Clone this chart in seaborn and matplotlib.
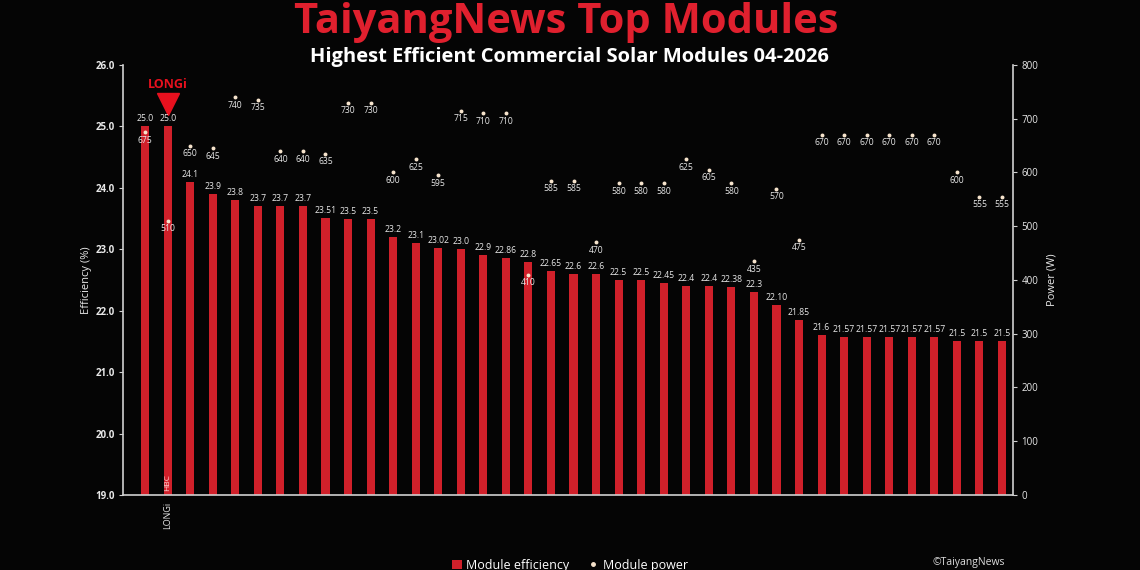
import matplotlib
matplotlib.use("Agg")
import matplotlib.pyplot as plt
import matplotlib.transforms as mtransforms
import seaborn as sns
import pandas as pd
from matplotlib.lines import Line2D
from matplotlib.patches import Patch

# ---------------- data ----------------
ranks = ["R01", "R02", "R03", "R04", "R05", "R06", "R07", "R08", "R09", "R10",
         "R11", "R12", "R13", "R14", "R15", "R16", "R17", "R18", "R19", "R20",
         "R21", "R22", "R23", "R24", "R25", "R26", "R27", "R28", "R29", "R30",
         "R31", "R32", "R33", "R34", "R35", "R36", "R37", "R38", "R39"]
efficiency = [25.0, 25.0, 24.1, 23.9, 23.8, 23.7, 23.7, 23.7, 23.51, 23.5,
              23.5, 23.2, 23.1, 23.02, 23.0, 22.9, 22.86, 22.8, 22.65, 22.6,
              22.6, 22.5, 22.5, 22.45, 22.4, 22.4, 22.38, 22.3, 22.10, 21.85,
              21.6, 21.57, 21.57, 21.57, 21.57, 21.57, 21.5, 21.5, 21.5]
eff_labels = ["25.0", "25.0", "24.1", "23.9", "23.8", "23.7", "23.7", "23.7", "23.51", "23.5",
              "23.5", "23.2", "23.1", "23.02", "23.0", "22.9", "22.86", "22.8", "22.65", "22.6",
              "22.6", "22.5", "22.5", "22.45", "22.4", "22.4", "22.38", "22.3", "22.10", "21.85",
              "21.6", "21.57", "21.57", "21.57", "21.57", "21.57", "21.5", "21.5", "21.5"]
power = [675, 510, 650, 645, 740, 735, 640, 640, 635, 730,
         730, 600, 625, 595, 715, 710, 710, 410, 585, 585,
         470, 580, 580, 580, 625, 605, 580, 435, 570, 475,
         670, 670, 670, 670, 670, 670, 600, 555, 555]
tick_labels = ["", "LONGi", "", "", "", "", "", "", "", "",
               "", "", "", "", "", "", "", "", "", "",
               "", "", "", "", "", "", "", "", "", "",
               "", "", "", "", "", "", "", "", ""]
eff_ticks = [19.0, 20.0, 21.0, 22.0, 23.0, 24.0, 25.0, 26.0]
power_ticks = [0, 100, 200, 300, 400, 500, 600, 700, 800]

# ---------------- style ----------------
BG = "#050505"
RED = "#d0202a"
TITLE_RED = "#e0202e"
CREAM = "#f6e3cc"
SPINE = "#d0d0d0"
TXT = "#e8e8e8"

sns.set_style("white", rc={"axes.facecolor": BG, "figure.facecolor": BG})
plt.rcParams["font.family"] = ["Open Sans", "DejaVu Sans"]

df = pd.DataFrame({"rank": ranks, "efficiency": efficiency, "power": power})
df["pos"] = range(len(df))

fig = plt.figure(figsize=(11.4, 5.7), dpi=100, facecolor=BG)
ax = fig.add_axes([0.1079, 0.1316, 0.7807, 0.7544])
ax.set_facecolor(BG)

sns.barplot(data=df, x="rank", y="efficiency", color=RED, saturation=1,
            width=0.36, ax=ax, linewidth=0, edgecolor="none")
ax.set_ylim(19, 26)
ax.set_xlim(-0.98, 38.49)
ax.set_yticks(eff_ticks)
ax.set_yticklabels([f"{t:.1f}" for t in eff_ticks], fontsize=7, color=TXT,
                   fontweight="bold")
ax.set_xticks(range(len(ranks)))
ax.set_xticklabels(tick_labels, rotation=90, fontsize=6.5, color=TXT)
ax.set_xlabel("")
ax.set_ylabel("Efficiency (%)", color=TXT, fontsize=8, labelpad=2)
ax.tick_params(axis="y", direction="out", length=3, color=SPINE, pad=3)
ax.tick_params(axis="x", direction="out", length=2, color="#777777", pad=3)

for i, (v, lab) in enumerate(zip(efficiency, eff_labels)):
    ax.annotate(lab, (i, v), xytext=(0, 5.4), textcoords="offset points",
                ha="center", va="center", fontsize=6.2, color=TXT)

ax2 = ax.twinx()
sns.scatterplot(data=df, x="pos", y="power", ax=ax2, color=CREAM, s=8,
                linewidth=0, legend=False, zorder=5)
ax2.set_ylim(0, 800)
ax2.set_xlim(-0.98, 38.49)
ax2.set_yticks(power_ticks)
ax2.set_yticklabels([str(t) for t in power_ticks], fontsize=7, color=TXT)
ax2.set_ylabel("Power (W)", color=TXT, fontsize=8, labelpad=6)
ax2.set_xlabel("")
ax2.tick_params(axis="y", direction="out", length=3, color=SPINE, pad=3)

for i, p in enumerate(power):
    ax2.annotate(str(p), (i, p), xytext=(0, -5.8), textcoords="offset points",
                 ha="center", va="center", fontsize=6.2, color=TXT)

for a in (ax, ax2):
    a.spines["top"].set_visible(False)
    for s in ("left", "right", "bottom"):
        a.spines[s].set_color(SPINE)
        a.spines[s].set_linewidth(1.2)
ax.spines["right"].set_visible(False)
ax2.spines["left"].set_visible(False)
ax2.spines["bottom"].set_visible(False)

# LONGi highlight (bar index 1)
ax.annotate("HBC", (1, 19), xytext=(0, 3), textcoords="offset points",
            rotation=90, ha="center", va="bottom", fontsize=6, color="#ffd6d6")
ax.plot([1], [efficiency[1]], marker="v", markersize=16, color="#e8101e",
        transform=ax.transData + mtransforms.ScaledTranslation(0, 22 / 100, fig.dpi_scale_trans),
        clip_on=False, linestyle="")
ax.annotate("LONGi", (1, efficiency[1]), xytext=(0, 42), textcoords="offset pixels",
            ha="center", va="center", fontsize=9, fontweight="bold", color="#e8101e")

# titles
fig.text(566 / 1140, 1 - 33 / 570, "TaiyangNews Top Modules", ha="center", va="baseline",
         fontsize=30, fontweight="bold", color=TITLE_RED)
fig.text(569 / 1140, 1 - 57 / 570, "Highest Efficient Commercial Solar Modules 04-2026",
         ha="center", va="center", fontsize=14.5, fontweight="bold", color="white")

# legend and credit
handles = [Patch(facecolor=RED, edgecolor="none"),
           Line2D([], [], marker="o", linestyle="", color=CREAM, markersize=2.5)]
fig.legend(handles, ["Module efficiency", "Module power"], loc="center",
           bbox_to_anchor=(570 / 1140, 1 - 565 / 570), ncol=2, frameon=False,
           fontsize=9, labelcolor="white", handlelength=0.8, handletextpad=0.4,
           columnspacing=1.5)
fig.text(1005 / 1140, 1 - 562 / 570, "©TaiyangNews", ha="right", va="center",
         fontsize=7.5, color="#dddddd")

fig.savefig("out.png", dpi=100, facecolor=BG)
